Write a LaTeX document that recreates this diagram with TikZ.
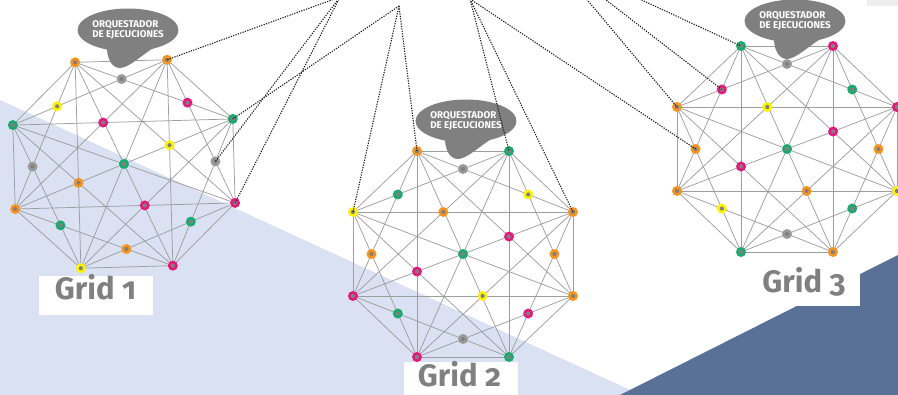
\documentclass[tikz,border=0pt]{standalone}
\usepackage{fontspec}
\setmainfont{Fira Sans}
\newfontfamily\gridfont[Numbers=OldStyle]{Fira Sans}
\usetikzlibrary{shapes.geometric,calc}

\definecolor{hubo}{HTML}{F7941D}
\definecolor{hubg}{HTML}{1BAA6E}
\definecolor{hubm}{HTML}{E5197D}
\definecolor{huby}{HTML}{FFF200}
\definecolor{hubs}{HTML}{9A9A9A}
\definecolor{dotgray}{HTML}{808080}
\definecolor{meshgray}{HTML}{9E9E9E}
\definecolor{bubblegray}{HTML}{808080}
\definecolor{labelgray}{HTML}{808080}
\definecolor{paleblue}{HTML}{D9E1F2}
\definecolor{deepblue}{HTML}{5A7197}

% one grid: eight corners, every corner joined to every other one,
% and the crossings that carry a node
\newcommand{\meshframe}[3]{%
  \begin{scope}[shift={#2}, rotate=#3]
    \foreach \k/\px/\py in {1/-46/-103, 2/46/-103, 3/110/-42, 4/110/42,
                            5/46/103, 6/-46/103, 7/-110/42, 8/-110/-42}
      \coordinate (#1p\k) at (\px,\py);
  \end{scope}
  \foreach \i in {1,...,7}{
    \pgfmathtruncatemacro{\inext}{\i+1}
    \foreach \j in {\inext,...,8}
      \draw[mesh] (#1p\i) -- (#1p\j);
  }
  \foreach \k/\ea/\eb/\fa/\fb in {top/1/3/2/8, rgt/3/5/2/4, bot/5/7/4/6, lft/7/1/6/8,
                                  d1/1/7/2/8, d2/1/3/2/4, d3/3/5/4/6, d4/5/7/6/8,
                                  q1/8/3/7/2, q2/2/5/1/4, q3/4/7/3/6, q4/6/1/5/8,
                                  mid/1/5/3/7}
    \coordinate (#1p\k) at (intersection cs:first line={(#1p\ea)--(#1p\eb)},
                                            second line={(#1p\fa)--(#1p\fb)});
}

\begin{document}
\begin{tikzpicture}[x=1pt, y=-1pt,
  mesh/.style={draw=meshgray, line width=0.75pt},
  hub/.style={circle, fill=#1, minimum size=10pt, inner sep=0pt,
    path picture={\fill[dotgray] (path picture bounding box.center) circle (2.1pt);}},
  link/.style={draw=black!90, line width=1.1pt, dash pattern=on 1.2pt off 1.3pt},
  bubble/.style={ellipse, fill=bubblegray, text=white, inner sep=0pt,
    minimum width=98pt, minimum height=43pt, align=left,
    font=\bfseries\fontsize{9.8}{9.4}\selectfont},
  gridtag/.style={text=labelgray, inner sep=0pt, anchor=base,
    font=\gridfont\bfseries\fontsize{31}{31}\selectfont},
]
  \clip (0,0) rectangle (898,395);
  % background bands
  \fill[paleblue] (0,100) -- (641,395) -- (0,395) -- cycle;
  \fill[deepblue] (620,395) -- (898,255) -- (898,395) -- cycle;
  \fill[black!7] (867,0) rectangle (898,6);
  % plates under the grid names
  \fill[white] (39,276) rectangle (153,315);
  \fill[white] (404,362) rectangle (518,397);
  \fill[white] (748,262) rectangle (860,306);

  % Grids: lines first, nodes on top
  \meshframe{g1}{(124,164)}{1.6}
  \meshframe{g2}{(463,254)}{0}
  \meshframe{g3}{(787,149)}{0}
  \foreach \k/\c in {1/hubo, 2/hubo, 3/hubg, 4/hubm, 5/hubm, 6/huby, 7/hubo, 8/hubg,
                     top/hubs, rgt/hubs, bot/hubo, lft/hubs, d1/huby, d2/hubm, d3/hubg,
                     d4/hubg, q1/hubm, q2/huby, q3/hubm, q4/hubo, mid/hubg}
    \node[hub=\c] (g1-\k) at (g1p\k) {};
  \foreach \k/\c in {1/hubo, 2/hubg, 3/hubo, 4/hubo, 5/hubg, 6/hubm, 7/hubm, 8/huby,
                     top/hubs, rgt/hubo, bot/hubs, lft/hubo, d1/hubg, d2/huby, d3/hubm,
                     d4/hubg, q1/hubo, q2/hubm, q3/huby, q4/hubm, mid/hubg}
    \node[hub=\c] (g2-\k) at (g2p\k) {};
  \foreach \k/\c in {1/hubg, 2/hubm, 3/hubm, 4/huby, 5/hubo, 6/hubg, 7/hubo, 8/hubo,
                     top/hubs, rgt/hubo, bot/hubs, lft/hubo, d1/hubm, d2/hubg, d3/hubg,
                     d4/huby, q1/huby, q2/hubm, q3/hubo, q4/hubm, mid/hubg}
    \node[hub=\c] (g3-\k) at (g3p\k) {};

  % Orchestrator bubbles above each grid
  \foreach \b/\bx/\by in {1/128/30, 2/466/121, 3/795/21}{
    \node[bubble] (orq\b) at (\bx,\by) {ORQUESTADOR\\DE EJECUCIONES};
    \fill[bubblegray] ($(orq\b.center)+(-21,13)$) .. controls +(-1,16) and +(-8,0) ..
      ($(orq\b.center)+(-8,38)$) .. controls +(9,0) and +(-12,7) ..
      ($(orq\b.center)+(27,17)$) -- cycle;
  }

  % Grid names
  \node[gridtag] (tag1) at (95.5,300) {Grid 1};
  \node[gridtag] (tag2) at (459.5,387) {Grid 2};
  \node[gridtag] (tag3) at (804,293) {Grid 3};

  % Dotted links coming down from above the frame
  \coordinate (srcA) at (340,-3);
  \coordinate (srcB) at (399,6);
  \coordinate (srcC) at (470,-1);
  \coordinate (srcD) at (553,-41);
  \foreach \t in {g1-2, g1-rgt, g1-4}
    \draw[link] (srcA) -- (\t.center);
  \foreach \t in {g1-3, g2-1, g2-8}
    \draw[link] (srcB) -- (\t.center);
  \foreach \t in {g2-2, g2-3, g3-lft}
    \draw[link] (srcC) -- (\t.center);
  \foreach \t in {g3-8, g3-d1, g3-1}
    \draw[link] (srcD) -- (\t.center);
\end{tikzpicture}
\end{document}
